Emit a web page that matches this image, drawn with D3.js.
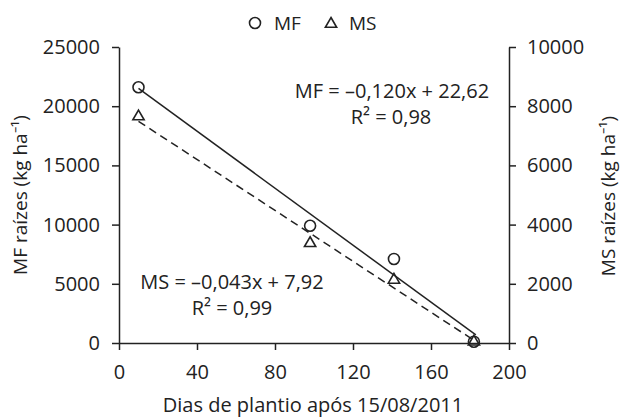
<!DOCTYPE html>
<html>
<head>
<meta charset="utf-8">
<script src="https://cdn.jsdelivr.net/npm/d3@7"></script>
<style>
  body { margin: 0; background: #fff; }
  svg text { font-family: "Open Sans", sans-serif; fill: #222; }
</style>
</head>
<body>
<svg id="chart" width="623" height="420"></svg>
<script>
// dados
var dias = [10, 98, 141, 182];
var mf = [21600, 9900, 7100, 110];   // eixo esquerdo
var ms = [7650, 3370, 2130, 40];     // eixo direito
// extremos das retas de regressão
var mfTrend = [[10, 21500], [183, 680]];
var msTrend = [[10, 7490], [183, 50]];
var xTicks = [0, 40, 80, 120, 160, 200];
var yLeftTicks = [0, 5000, 10000, 15000, 20000, 25000];
var yRightTicks = [0, 2000, 4000, 6000, 8000, 10000];

function makeChart() {
    var svg = d3.select('#chart'), ink = '#222', fmt = d3.format('d');

    var x = d3.scaleLinear().domain([0, 200]).range([119, 509]);
    var yL = d3.scaleLinear().domain([0, 25000]).range([343, 47]);
    var yR = d3.scaleLinear().domain([0, 10000]).range([343, 47]);

    // eixos
    function style(g) {
        g.selectAll('path, line').attr('stroke', ink).attr('stroke-width', 1.5);
        g.selectAll('text').attr('font-size', 20).attr('fill', ink);
    }
    svg.append('g').attr('transform', 'translate(0,343)')
        .call(d3.axisBottom(x).tickValues(xTicks).tickFormat(fmt).tickSize(7).tickSizeOuter(0).tickPadding(15))
        .call(style);
    svg.append('g').attr('transform', 'translate(119,0)')
        .call(d3.axisLeft(yL).tickValues(yLeftTicks).tickFormat(fmt).tickSize(7).tickSizeOuter(0).tickPadding(12))
        .call(style);
    svg.append('g').attr('transform', 'translate(509,0)')
        .call(d3.axisRight(yR).tickValues(yRightTicks).tickFormat(fmt).tickSize(7).tickSizeOuter(0).tickPadding(11))
        .call(style);

    // retas de regressão
    var line = d3.line().x(d => x(d[0]));
    svg.append('path').datum(mfTrend)
        .attr('d', line.y(d => yL(d[1])))
        .attr('fill', 'none').attr('stroke', ink).attr('stroke-width', 1.5);
    svg.append('path').datum(msTrend)
        .attr('d', line.y(d => yR(d[1])))
        .attr('fill', 'none').attr('stroke', ink).attr('stroke-width', 1.5)
        .attr('stroke-dasharray', '8,5');

    // pontos
    var tri = d3.symbol().type(d3.symbolTriangle).size(55);
    svg.selectAll('circle.mf').data(dias).enter().append('circle')
        .attr('cx', d => x(d)).attr('cy', (d, i) => yL(mf[i])).attr('r', 5.5)
        .attr('fill', 'none').attr('stroke', ink).attr('stroke-width', 1.6);
    svg.selectAll('path.ms').data(dias).enter().append('path')
        .attr('d', tri)
        .attr('transform', (d, i) => 'translate(' + x(d) + ',' + yR(ms[i]) + ')')
        .attr('fill', 'none').attr('stroke', ink).attr('stroke-width', 1.6);

    // legenda
    svg.append('circle').attr('cx', 255).attr('cy', 23).attr('r', 5.5)
        .attr('fill', 'none').attr('stroke', ink).attr('stroke-width', 1.6);
    svg.append('text').attr('x', 274).attr('y', 30).attr('font-size', 19).text('MF');
    svg.append('path').attr('d', tri).attr('transform', 'translate(331,24)')
        .attr('fill', 'none').attr('stroke', ink).attr('stroke-width', 1.6);
    svg.append('text').attr('x', 349).attr('y', 30).attr('font-size', 19).text('MS');

    // equações
    var eq = [
        {t: 'MF = –0,120x + 22,62', x: 392, y: 98},
        {t: 'R² = 0,98', x: 391, y: 124},
        {t: 'MS = –0,043x + 7,92', x: 232, y: 289},
        {t: 'R² = 0,99', x: 232, y: 315}
    ];
    svg.selectAll('text.eq').data(eq).enter().append('text')
        .attr('x', d => d.x).attr('y', d => d.y)
        .attr('text-anchor', 'middle').attr('font-size', 20)
        .text(d => d.t);

    // títulos dos eixos
    svg.append('text').attr('x', 313).attr('y', 412)
        .attr('text-anchor', 'middle').attr('font-size', 20)
        .text('Dias de plantio após 15/08/2011');
    svg.append('text').attr('transform', 'translate(27,195) rotate(-90)')
        .attr('text-anchor', 'middle').attr('font-size', 19)
        .text('MF raízes (kg ha⁻¹)');
    svg.append('text').attr('transform', 'translate(615,196) rotate(-90)')
        .attr('text-anchor', 'middle').attr('font-size', 19)
        .text('MS raízes (kg ha⁻¹)');
}

makeChart();
</script>
</body>
</html>
